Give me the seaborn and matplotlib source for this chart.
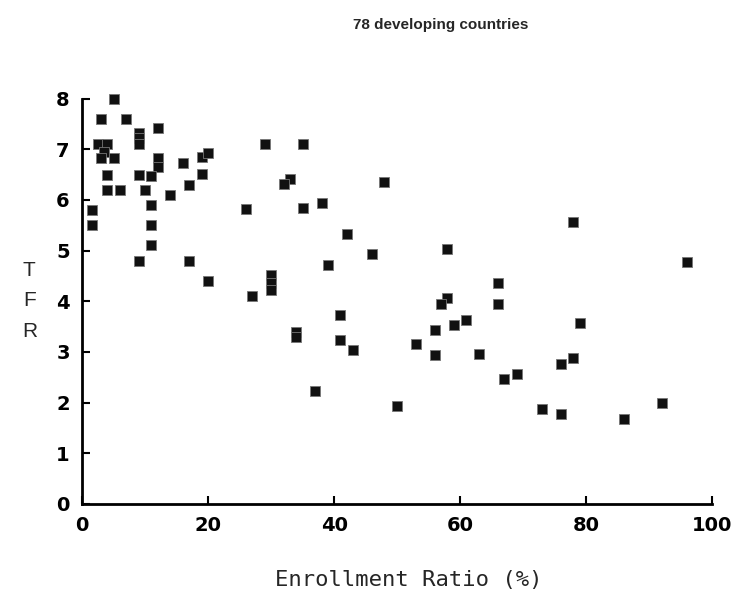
import numpy as np
import pandas as pd
import seaborn as sns
import matplotlib
matplotlib.use("Agg")
from matplotlib import pyplot as plt

# 1. 数据
enroll = [5, 3, 7, 12, 9, 9, 9, 2.5, 4, 3.5,
          3, 5, 12, 12, 16, 19, 20, 4, 9, 11,
          19, 17, 4, 6, 10, 14, 11, 1.5, 1.5, 11,
          11, 9, 17, 20, 27, 29, 35, 33, 32, 26,
          35, 38, 48, 42, 46, 39, 30, 30, 30, 58,
          78, 96, 66, 66, 58, 57, 41, 34, 34, 41,
          43, 56, 59, 61, 53, 56, 63, 79, 78, 76,
          67, 69, 37, 50, 73, 76, 86, 92]
tfr = [8.0, 7.6, 7.6, 7.42, 7.32, 7.22, 7.1, 7.1, 7.1, 6.95,
       6.82, 6.82, 6.82, 6.65, 6.72, 6.84, 6.92, 6.5, 6.5, 6.48,
       6.52, 6.3, 6.2, 6.2, 6.2, 6.1, 5.9, 5.8, 5.5, 5.5,
       5.1, 4.8, 4.8, 4.4, 4.1, 7.1, 7.1, 6.42, 6.32, 5.82,
       5.83, 5.93, 6.35, 5.33, 4.93, 4.72, 4.52, 4.36, 4.22, 5.04,
       5.57, 4.78, 4.35, 3.95, 4.06, 3.94, 3.72, 3.4, 3.3, 3.23,
       3.03, 3.43, 3.53, 3.63, 3.15, 2.94, 2.96, 3.56, 2.88, 2.77,
       2.46, 2.56, 2.22, 1.94, 1.87, 1.77, 1.68, 1.99]
x_ticks = [0, 20, 40, 60, 80, 100]
y_ticks = [0, 1, 2, 3, 4, 5, 6, 7, 8]

df = pd.DataFrame({"Enrollment": enroll, "TFR": tfr})

# 2. 样式
sns.set_style("ticks")
plt.rcParams['font.family'] = ['DejaVu Sans']

fig = plt.figure(figsize=(7.34, 5.90), dpi=100)
ax = fig.add_axes([0.112, 0.146, 0.858, 0.687])

sns.scatterplot(data=df, x="Enrollment", y="TFR", marker="s", s=52,
                color="#111111", edgecolor="#777777", linewidth=0.6,
                ax=ax, clip_on=False, zorder=3)

ax.set_xlim(0, 100)
ax.set_ylim(0, 8)
ax.set_xticks(x_ticks)
ax.set_yticks(y_ticks)
ax.tick_params(direction="in", length=6, width=1.5, pad=9,
               labelsize=14, colors="black")
for lab in ax.get_xticklabels() + ax.get_yticklabels():
    lab.set_fontweight("bold")
for side in ["top", "right"]:
    ax.spines[side].set_visible(False)
for side in ["left", "bottom"]:
    ax.spines[side].set_linewidth(2)
    ax.spines[side].set_color("black")
ax.set_xlabel("")
ax.set_ylabel("")

# 标题和标签
fig.text(0.60, 0.958, "78 developing countries", ha="center", va="center",
         fontsize=11, fontweight="bold", family="Liberation Sans")
fig.text(0.557, 0.017, "Enrollment Ratio (%)", ha="center", va="center",
         fontsize=16, family="DejaVu Sans Mono")
fig.text(0.04, 0.49, "T\nF\nR", ha="center", va="center",
         fontsize=15, linespacing=1.75, family="Liberation Sans")

fig.savefig("out.png", dpi=100)
